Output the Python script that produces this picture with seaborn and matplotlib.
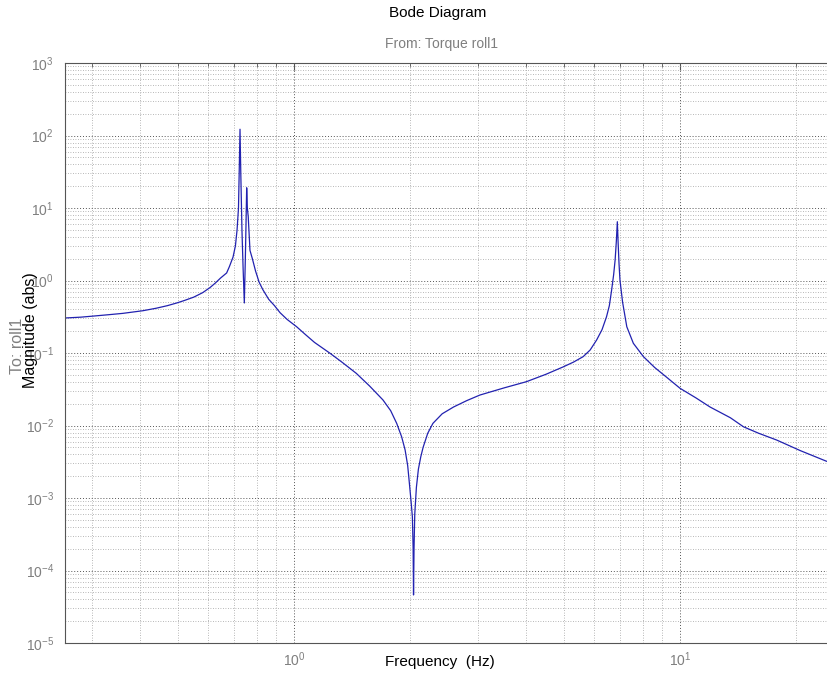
import numpy as np
import pandas as pd
import matplotlib
matplotlib.use('Agg')
import matplotlib.pyplot as plt
import matplotlib.ticker as mticker
import seaborn as sns

# Bode magnitude (Hz, abs)
freq_hz = [0.255, 0.28, 0.30, 0.33, 0.36, 0.406, 0.44, 0.47, 0.497, 0.52,
           0.55, 0.58, 0.606, 0.625, 0.645, 0.669, 0.68, 0.695, 0.705, 0.712,
           0.718, 0.721, 0.7246, 0.728, 0.733, 0.738, 0.7435, 0.748, 0.751,
           0.754, 0.757, 0.761, 0.769, 0.78, 0.795, 0.812, 0.83, 0.86, 0.89,
           0.92, 0.96, 1.016, 1.07, 1.13, 1.24, 1.33, 1.45, 1.57, 1.70, 1.78,
           1.845, 1.90, 1.94, 1.97, 1.99, 2.01, 2.026, 2.035, 2.04, 2.046,
           2.055, 2.075, 2.10, 2.13, 2.16, 2.22, 2.29, 2.42, 2.59, 2.8, 3.03,
           3.5, 4.0, 4.5, 4.99, 5.3, 5.61, 5.85, 6.08, 6.28, 6.45, 6.56, 6.65,
           6.73, 6.79, 6.84, 6.88, 6.91, 6.95, 6.99, 7.1, 7.28, 7.57, 8.04,
           8.6, 9.2, 10.0, 11.0, 11.96, 13.5, 14.6, 16.0, 17.8, 20.5, 24.0]
magnitude = [0.304, 0.312, 0.322, 0.337, 0.352, 0.383, 0.415, 0.45, 0.49, 0.53,
             0.59, 0.68, 0.80, 0.92, 1.08, 1.27, 1.55, 2.1, 3.0, 5.0,
             10.0, 30.0, 122.0, 30.0, 5.0, 1.5, 0.49, 2.0, 6.0,
             19.0, 10.0, 7.6, 2.6, 2.0, 1.35, 0.95, 0.75, 0.55, 0.45,
             0.36, 0.29, 0.23, 0.18, 0.14, 0.099, 0.075, 0.0524, 0.035, 0.0225, 0.016,
             0.0107, 0.0070, 0.0046, 0.0028, 0.0016, 9e-4, 5.5e-4, 2e-4, 4.6e-5, 2e-4,
             6e-4, 0.0014, 0.0025, 0.0037, 0.0050, 0.0078, 0.0107, 0.0145, 0.018, 0.022, 0.0263,
             0.033, 0.0402, 0.051, 0.0646, 0.075, 0.089, 0.11, 0.151, 0.21, 0.316, 0.45, 0.74,
             1.2, 1.92, 3.5, 6.47, 3.5, 1.7, 1.0, 0.5, 0.23, 0.136, 0.089,
             0.063, 0.047, 0.0326, 0.024, 0.018, 0.0128, 0.0096, 0.0078, 0.0063, 0.0045, 0.0032]

df = pd.DataFrame({'freq': freq_hz, 'mag': magnitude})

sns.set_style('white')
plt.rcParams['font.family'] = ['Liberation Sans', 'DejaVu Sans']

fig = plt.figure(figsize=(8.27, 6.73), dpi=100)
ax = fig.add_axes([65 / 827, 1 - 643 / 673, 762 / 827, 580 / 673])

sns.lineplot(data=df, x='freq', y='mag', ax=ax, color='#2222b0',
             linewidth=0.9, estimator=None, sort=False)

ax.set_xscale('log')
ax.set_yscale('log')
ax.set_xlim(0.2551, 24.03)
ax.set_ylim(1e-5, 1e3)

ax.xaxis.set_major_locator(mticker.LogLocator(base=10, numticks=20))
ax.xaxis.set_minor_locator(mticker.LogLocator(base=10, subs=np.arange(2, 10), numticks=50))
ax.yaxis.set_major_locator(mticker.LogLocator(base=10, numticks=20))
ax.yaxis.set_minor_locator(mticker.LogLocator(base=10, subs=np.arange(2, 10), numticks=50))
ax.xaxis.set_minor_formatter(mticker.NullFormatter())
ax.yaxis.set_minor_formatter(mticker.NullFormatter())

ax.grid(True, which='major', color='#555555', linestyle=(0, (1, 2)), linewidth=0.7)
ax.grid(True, which='minor', color='#a0a0a0', linestyle=(0, (1, 2)), linewidth=0.6)

ax.tick_params(which='both', direction='in', top=True, right=False,
               colors='#555555', labelcolor='#7f7f7f', labelsize=10)
ax.tick_params(which='major', length=5)
ax.tick_params(which='minor', length=3)
ax.tick_params(axis='y', pad=8)
ax.tick_params(axis='x', pad=5)

for side in ['left', 'bottom', 'top']:
    ax.spines[side].set_color('#555555')
    ax.spines[side].set_linewidth(0.8)
ax.spines['right'].set_visible(False)

ax.set_xlabel('')
ax.set_ylabel('')

fig.text(438 / 827, 1 - 13 / 673, 'Bode Diagram', ha='center', va='center',
         fontsize=11, color='black')
fig.text(441 / 827, 1 - 44 / 673, 'From: Torque roll1', ha='center', va='center',
         fontsize=10, color='#7f7f7f')
fig.text(440 / 827, 1 - 662 / 673, 'Frequency  (Hz)', ha='center', va='center',
         fontsize=11, color='black')
fig.text(30 / 827, 1 - 330 / 673, 'Magnitude (abs)', ha='center', va='center',
         rotation=90, fontsize=11.5, color='black')
fig.text(17 / 827, 1 - 346 / 673, 'To: roll1', ha='center', va='center',
         rotation=90, fontsize=11.5, color='#7f7f7f')

fig.savefig('out.png', dpi=100, facecolor='white')
